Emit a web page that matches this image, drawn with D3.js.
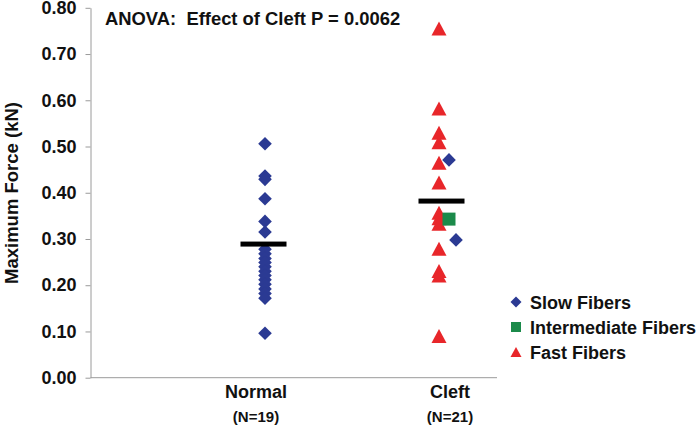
<!DOCTYPE html>
<html>
<head>
<meta charset="utf-8">
<script src="https://cdn.jsdelivr.net/npm/d3@7"></script>
<style>
  html, body { margin: 0; padding: 0; background: #fff; }
  svg { display: block; font-family: "Liberation Sans", Arial, sans-serif; font-weight: bold; }
</style>
</head>
<body>
<svg id="chart" width="700" height="427"></svg>
<script>
// ---- data ----
const categories = ["Normal", "Cleft"];
const categoryN = ["(N=19)", "(N=21)"];
const yTicks = [0, 0.1, 0.2, 0.3, 0.4, 0.5, 0.6, 0.7, 0.8];

const normalSlow = [0.506, 0.436, 0.429, 0.387, 0.338, 0.315, 0.278, 0.268, 0.258, 0.249,
                    0.240, 0.230, 0.221, 0.212, 0.202, 0.192, 0.182, 0.172, 0.096];
const cleftFast = [0.755, 0.582, 0.530, 0.509, 0.465, 0.422, 0.357, 0.345, 0.333, 0.279,
                   0.231, 0.221, 0.090];
const cleftSlow = [0.471, 0.298];
const cleftIntermediate = [0.343];
const means = [0.289, 0.382];

const legendItems = ["Slow Fibers", "Intermediate Fibers", "Fast Fibers"];
const title = "ANOVA:  Effect of Cleft P = 0.0062";
const yTitle = "Maximum Force (kN)";

// ---- styles ----
const BLUE = "#2b3a93", GREEN = "#1b8a4a", RED = "#e8262a";

const svg = d3.select("#chart");
const y = d3.scaleLinear().domain([0, 0.8]).range([377.7, 7.8]);
const x = d3.scalePoint().domain(categories).range([256, 450]);
const xAxisLeft = 90.5, xAxisRight = 497;

// symbol paths
const diamond = r => `M0,${-r}L${r},0L0,${r}L${-r},0Z`;
const square = s => `M${-s/2},${-s/2}h${s}v${s}h${-s}Z`;
const triangle = (w, h) => `M0,${-h/2}L${w/2},${h/2}L${-w/2},${h/2}Z`;

// y axis
const yAxis = d3.axisLeft(y).tickValues(yTicks).tickFormat(d3.format(".2f"))
  .tickSize(5).tickSizeOuter(0).tickPadding(9);
const gy = svg.append("g").attr("transform", `translate(${xAxisLeft},0)`).call(yAxis);
gy.select(".domain").attr("stroke", "#9a9a9a").attr("stroke-width", 1);
gy.selectAll(".tick line").attr("stroke", "#9a9a9a");
gy.selectAll(".tick text").attr("fill", "#111").style("font-size", "18px")
  .style("font-weight", "bold").style("font-family", "'Liberation Sans', Arial, sans-serif");

// x axis line
svg.append("line").attr("x1", xAxisLeft).attr("x2", xAxisRight)
  .attr("y1", y(0)).attr("y2", y(0)).attr("stroke", "#9a9a9a").attr("stroke-width", 1);

// category labels
svg.append("g").selectAll("text.cat").data(categories).join("text")
  .attr("x", d => x(d)).attr("y", 398).attr("text-anchor", "middle")
  .style("font-size", "18px").attr("fill", "#111").text(d => d);
svg.append("g").selectAll("text.n").data(categoryN).join("text")
  .attr("x", (d, i) => x(categories[i])).attr("y", 422).attr("text-anchor", "middle")
  .style("font-size", "15px").attr("fill", "#111").text(d => d);

// y title
svg.append("text").attr("transform", `translate(18,193) rotate(-90)`)
  .attr("text-anchor", "middle").style("font-size", "18.5px").attr("fill", "#111").text(yTitle);

// title
svg.append("text").attr("x", 105).attr("y", 25).style("font-size", "18.4px")
  .style("white-space", "pre").attr("xml:space", "preserve")
  .attr("fill", "#111").text(title);

// points
svg.append("g").selectAll("path").data(normalSlow).join("path")
  .attr("d", diamond(6.8)).attr("fill", BLUE)
  .attr("transform", d => `translate(${x("Normal") + 9},${y(d)})`);

svg.append("g").selectAll("path").data(cleftFast).join("path")
  .attr("d", triangle(15, 14)).attr("fill", RED)
  .attr("transform", d => `translate(${x("Cleft") - 11},${y(d)})`);

svg.append("g").selectAll("path").data(cleftIntermediate).join("path")
  .attr("d", square(13)).attr("fill", GREEN)
  .attr("transform", d => `translate(${x("Cleft") - 1},${y(d)})`);

const slowOffsets = [-1, 6];
svg.append("g").selectAll("path").data(cleftSlow).join("path")
  .attr("d", diamond(6.8)).attr("fill", BLUE)
  .attr("transform", (d, i) => `translate(${x("Cleft") + slowOffsets[i]},${y(d)})`);

// mean bars
const meanOffsets = [7.5, -8.5];
svg.append("g").selectAll("rect").data(means).join("rect")
  .attr("x", (d, i) => x(categories[i]) + meanOffsets[i] - 23)
  .attr("y", d => y(d) - 2.5).attr("width", 46).attr("height", 5).attr("fill", "#000");

// legend
const legendShapes = [
  {d: diamond(5.5), c: BLUE},
  {d: square(10), c: GREEN},
  {d: triangle(11, 10), c: RED}
];
const lg = svg.append("g").selectAll("g").data(legendItems).join("g")
  .attr("transform", (d, i) => `translate(516,${302 + i * 25})`);
lg.append("path").attr("d", (d, i) => legendShapes[i].d).attr("fill", (d, i) => legendShapes[i].c);
lg.append("text").attr("x", 14).attr("y", 7).style("font-size", "18px").attr("fill", "#111").text(d => d);
</script>
</body>
</html>
